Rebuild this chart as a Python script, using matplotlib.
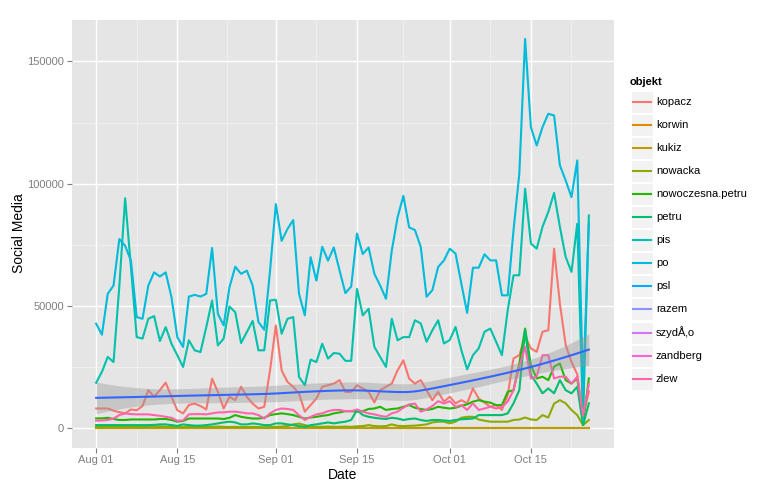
import numpy as np
import pandas as pd
import matplotlib
matplotlib.use("Agg")
import matplotlib.pyplot as plt
import matplotlib.dates as mdates
from matplotlib.patches import Rectangle
from matplotlib.lines import Line2D

plt.rcParams['font.family'] = ['Liberation Sans', 'DejaVu Sans']

start_date = "2015-08-01"
n_days = 86

objekt = ["kopacz", "korwin", "kukiz", "nowacka", "nowoczesna.petru", "petru",
          "pis", "po", "psl", "razem", "szydÅ‚o", "zandberg", "zlew"]
colors = ["#F8766D", "#E18A00", "#BE9C00", "#8CAB00", "#24B700", "#00BE70",
          "#00C1AB", "#00BBDA", "#00ACFC", "#8B93FF", "#D575FE", "#F962DD", "#FF65AC"]

po = [42700, 38200, 54900, 58300, 77300, 74600, 68500, 45400, 44700, 58300,
      63700, 62000, 63700, 53500, 37200, 33200, 53800, 54500, 53800, 54900,
      73700, 46700, 42000, 57600, 66000, 63100, 64400, 58300, 43400, 40200,
      64400, 91600, 76600, 81400, 85100, 54900, 46100, 69900, 60300, 74200,
      68500, 73900, 64400, 55200, 57900, 79600, 71200, 73900, 63100, 58300,
      52900, 72600, 86200, 95000, 82100, 81000, 74100, 53700, 56400, 65900,
      68600, 73400, 71400, 59100, 47100, 65600, 65600, 71100, 68600, 68600,
      54300, 54300, 80900, 104000, 159200, 123100, 115600, 123100, 128600, 127900,
      107500, 101300, 94500, 109500, 15000, 84000]

pis = [18500, 23000, 29100, 27000, 58000, 94000, 66000, 37200, 36600, 44700,
       45800, 35600, 41300, 34500, 29800, 25000, 35900, 31800, 31100, 41300,
       52200, 33800, 36600, 49700, 47400, 34800, 39300, 43800, 31800, 31800,
       52200, 52500, 38600, 44700, 45400, 20900, 17500, 28000, 27000, 34500,
       28400, 30700, 30400, 27500, 27500, 56900, 46100, 48800, 33200, 29100,
       25000, 44700, 35900, 37200, 37200, 44100, 42800, 35300, 40000, 44100,
       34600, 36000, 41400, 31900, 24000, 29800, 32600, 39400, 40700, 35300,
       29800, 48200, 62500, 62500, 97900, 75500, 73400, 82300, 88400, 96200,
       82300, 70000, 63900, 83600, 3000, 87000]

kopacz = [8000, 8000, 8000, 7100, 6500, 6000, 7600, 7300, 9000, 15500,
          12800, 15500, 18600, 12800, 7300, 6000, 9400, 10000, 9000, 7600,
          20200, 14800, 8000, 12800, 11400, 16900, 12800, 10000, 8000, 8700,
          23600, 42000, 23600, 18900, 16900, 14100, 6700, 9400, 12100, 16900,
          17500, 18200, 19600, 14800, 14800, 17500, 16200, 14800, 10500, 15500,
          16900, 18200, 23600, 27700, 20200, 18200, 19600, 15500, 11400, 14800,
          10800, 12800, 10100, 11400, 10100, 16200, 12100, 10400, 8700, 9400,
          7400, 13500, 28500, 29800, 37300, 32600, 31200, 39400, 40000, 73400,
          50900, 34000, 27000, 22000, 5000, 15000]

zlew = [3000, 3100, 3300, 3900, 5300, 6000, 5700, 5600, 5600, 5600,
        5300, 5000, 4600, 4200, 3000, 3100, 5600, 5700, 5700, 5600,
        6000, 6400, 6400, 6700, 6700, 6400, 6000, 6000, 5300, 3900,
        6000, 7400, 8000, 7800, 7400, 5300, 3300, 4600, 5600, 6000,
        6900, 7400, 7400, 6900, 6900, 7600, 6700, 6000, 5600, 5000,
        4600, 6000, 6700, 8300, 9700, 10000, 6700, 7600, 9000, 11000,
        10000, 11000, 8700, 9400, 7400, 10100, 7400, 8000, 8700, 8000,
        8700, 10800, 15500, 25100, 33200, 20300, 21000, 29800, 29800, 20300,
        21000, 21000, 18200, 21000, 5000, 18000]

nowoczesna_petru = [3950, 3950, 4200, 3700, 3300, 3300, 3500, 3500, 3500, 3500,
                    3500, 3700, 3700, 3300, 2600, 2900, 3900, 3900, 3900, 3900,
                    3900, 3900, 3700, 4200, 5300, 4600, 4200, 3900, 3900, 4200,
                    5300, 5700, 6000, 5700, 5300, 4600, 3900, 4300, 4600, 5000,
                    5300, 6000, 6400, 6900, 6900, 6700, 6900, 7800, 8000, 8700,
                    7400, 7800, 8000, 8700, 9400, 8300, 7800, 7400, 7800, 8700,
                    8300, 8000, 8300, 9100, 9700, 10800, 11400, 10800, 10400, 9400,
                    9400, 14800, 15500, 26400, 40700, 25700, 20300, 21000, 19600, 25100,
                    26400, 19600, 18200, 20300, 1900, 20300]

petru = [1200, 1200, 1200, 1200, 1200, 1200, 1200, 1200, 1200, 1200,
         1300, 1500, 1500, 1200, 900, 1500, 1200, 1000, 1000, 1200,
         1500, 1900, 2300, 2600, 2300, 1500, 1500, 1900, 1600, 1200,
         1200, 1900, 1900, 1500, 1200, 800, 500, 1200, 1500, 1900,
         2300, 1900, 2300, 2600, 3300, 7400, 5300, 4600, 4200, 3900,
         3700, 4200, 3900, 3300, 3700, 3900, 3300, 2900, 3300, 3300,
         3100, 2900, 3300, 3600, 3700, 3900, 5300, 5300, 5300, 5300,
         5300, 6000, 10100, 15500, 40000, 21700, 18200, 14200, 16200, 14200,
         19600, 15500, 14200, 16900, 1200, 10100]

nowacka = [400, 400, 500, 400, 500, 700, 600, 400, 400, 500,
           600, 700, 500, 400, 300, 400, 500, 400, 500, 400,
           500, 600, 500, 400, 500, 400, 400, 500, 400, 300,
           400, 500, 600, 800, 1500, 1800, 1200, 600, 500, 500,
           600, 500, 500, 600, 500, 700, 800, 1200, 800, 700,
           800, 1500, 900, 800, 900, 1000, 1200, 1500, 2300, 2600,
           2600, 1900, 2600, 4200, 4600, 4600, 3500, 3000, 2600, 2600,
           2600, 2600, 3300, 3500, 4300, 3500, 3300, 5300, 4300, 10000,
           11400, 10100, 7400, 5300, 1200, 3300]

kukiz = [0] * n_days
korwin = [0] * n_days

series = {
    "kopacz": kopacz, "korwin": korwin, "kukiz": kukiz, "nowacka": nowacka,
    "nowoczesna.petru": nowoczesna_petru, "petru": petru, "pis": pis, "po": po,
    "zlew": zlew,
}

dates = pd.date_range(start_date, periods=n_days, freq="D")

W, H = 776, 492
fig = plt.figure(figsize=(W / 100, H / 100), dpi=100)
ax = fig.add_axes([71.5 / W, 1 - 447.5 / H, 542 / W, 428 / H])
ax.set_facecolor("#E5E5E5")

for name, col in zip(objekt, colors):
    if name in series:
        ax.plot(dates, series[name], color=col, lw=1.5, zorder=2, solid_joinstyle="round")

# loess smooth over all series (span 0.75, degree 2)
xs, ys = [], []
for name in objekt:
    if name in series:
        xs.append(np.arange(n_days, dtype=float))
        ys.append(np.asarray(series[name], dtype=float))
x_all = np.concatenate(xs)
y_all = np.concatenate(ys)
n = len(x_all)
q = int(np.floor(n * 0.75))


def smoother_rows(x0s):
    L = np.zeros((len(x0s), n))
    for i, x0 in enumerate(x0s):
        d = np.abs(x_all - x0)
        h = np.sort(d)[q - 1]
        w = np.clip(1 - (d / h) ** 3, 0, None) ** 3
        X = np.vstack([np.ones(n), x_all - x0, (x_all - x0) ** 2]).T
        A = X.T @ (w[:, None] * X)
        L[i] = np.linalg.solve(A, (X * w[:, None]).T)[0]
    return L


ux = np.arange(n_days, dtype=float)
Lu = smoother_rows(ux)
Lfull = Lu[x_all.astype(int)]
fitted = Lfull @ y_all
rss = np.sum((y_all - fitted) ** 2)
one_delta = n - 2 * np.trace(Lfull) + np.sum(Lfull ** 2)
sigma = np.sqrt(rss / one_delta)
xe = np.linspace(0, n_days - 1, 80)
Le = smoother_rows(xe)
fit_e = Le @ y_all
se_e = sigma * np.sqrt(np.sum(Le ** 2, axis=1))
dates_e = pd.Timestamp(start_date) + pd.to_timedelta(xe, unit="D")
ax.fill_between(dates_e, fit_e - 1.965 * se_e, fit_e + 1.965 * se_e,
                color="#999999", alpha=0.4, lw=0, zorder=3)
ax.plot(dates_e, fit_e, color="#3366FF", lw=1.5, zorder=4)

# axes limits
d0 = mdates.date2num(dates[0])
d1 = mdates.date2num(dates[-1])
span = d1 - d0
ax.set_xlim(d0 - 0.05 * span, d1 + 0.05 * span)
ymax = max(max(v) for v in series.values())
ax.set_ylim(-0.05 * ymax, 1.05 * ymax)

xmaj = pd.to_datetime(["2015-08-01", "2015-08-15", "2015-09-01", "2015-09-15",
                       "2015-10-01", "2015-10-15"])
xmaj_num = mdates.date2num(xmaj)
xmin_num = list((xmaj_num[:-1] + xmaj_num[1:]) / 2) + [xmaj_num[-1] + 7]
ax.set_xticks(xmaj_num)
ax.set_xticklabels([d.strftime("%b %d") for d in xmaj])
ax.set_xticks(xmin_num, minor=True)
ax.set_yticks([0, 50000, 100000, 150000])
ax.set_yticklabels(["0", "50000", "100000", "150000"])
ax.set_yticks([25000, 75000, 125000], minor=True)

ax.grid(which="major", color="white", lw=1.0, zorder=0)
ax.grid(which="minor", color="#F2F2F2", lw=0.6, zorder=0)
ax.set_axisbelow(True)
for s in ax.spines.values():
    s.set_visible(False)
ax.tick_params(which="major", length=3.3, width=0.8, color="#7F7F7F",
               labelcolor="#7F7F7F", labelsize=8, pad=2)
ax.tick_params(which="minor", length=0)
ax.set_xlabel("Date", fontsize=10, labelpad=2)
ax.set_ylabel("Social Media", fontsize=10, labelpad=1)


def fx(px):
    return px / W


def fy(py):
    return 1 - py / H


fig.text(fx(630), fy(82), "objekt", fontsize=8, fontweight="bold", va="center", ha="left")
for i, (name, col) in enumerate(zip(objekt, colors)):
    cy = 102 + i * 23.05
    fig.patches.append(Rectangle((fx(631), fy(cy + 11)), 22 / W, 22 / H,
                                 transform=fig.transFigure, facecolor="#F2F2F2",
                                 edgecolor="white", lw=0.8))
    fig.lines.append(Line2D([fx(632.5), fx(650.5)], [fy(cy), fy(cy)],
                            transform=fig.transFigure, color=col, lw=1.5))
    fig.text(fx(656), fy(cy), name, fontsize=8, va="center", ha="left")

fig.savefig("out.png", dpi=100)
